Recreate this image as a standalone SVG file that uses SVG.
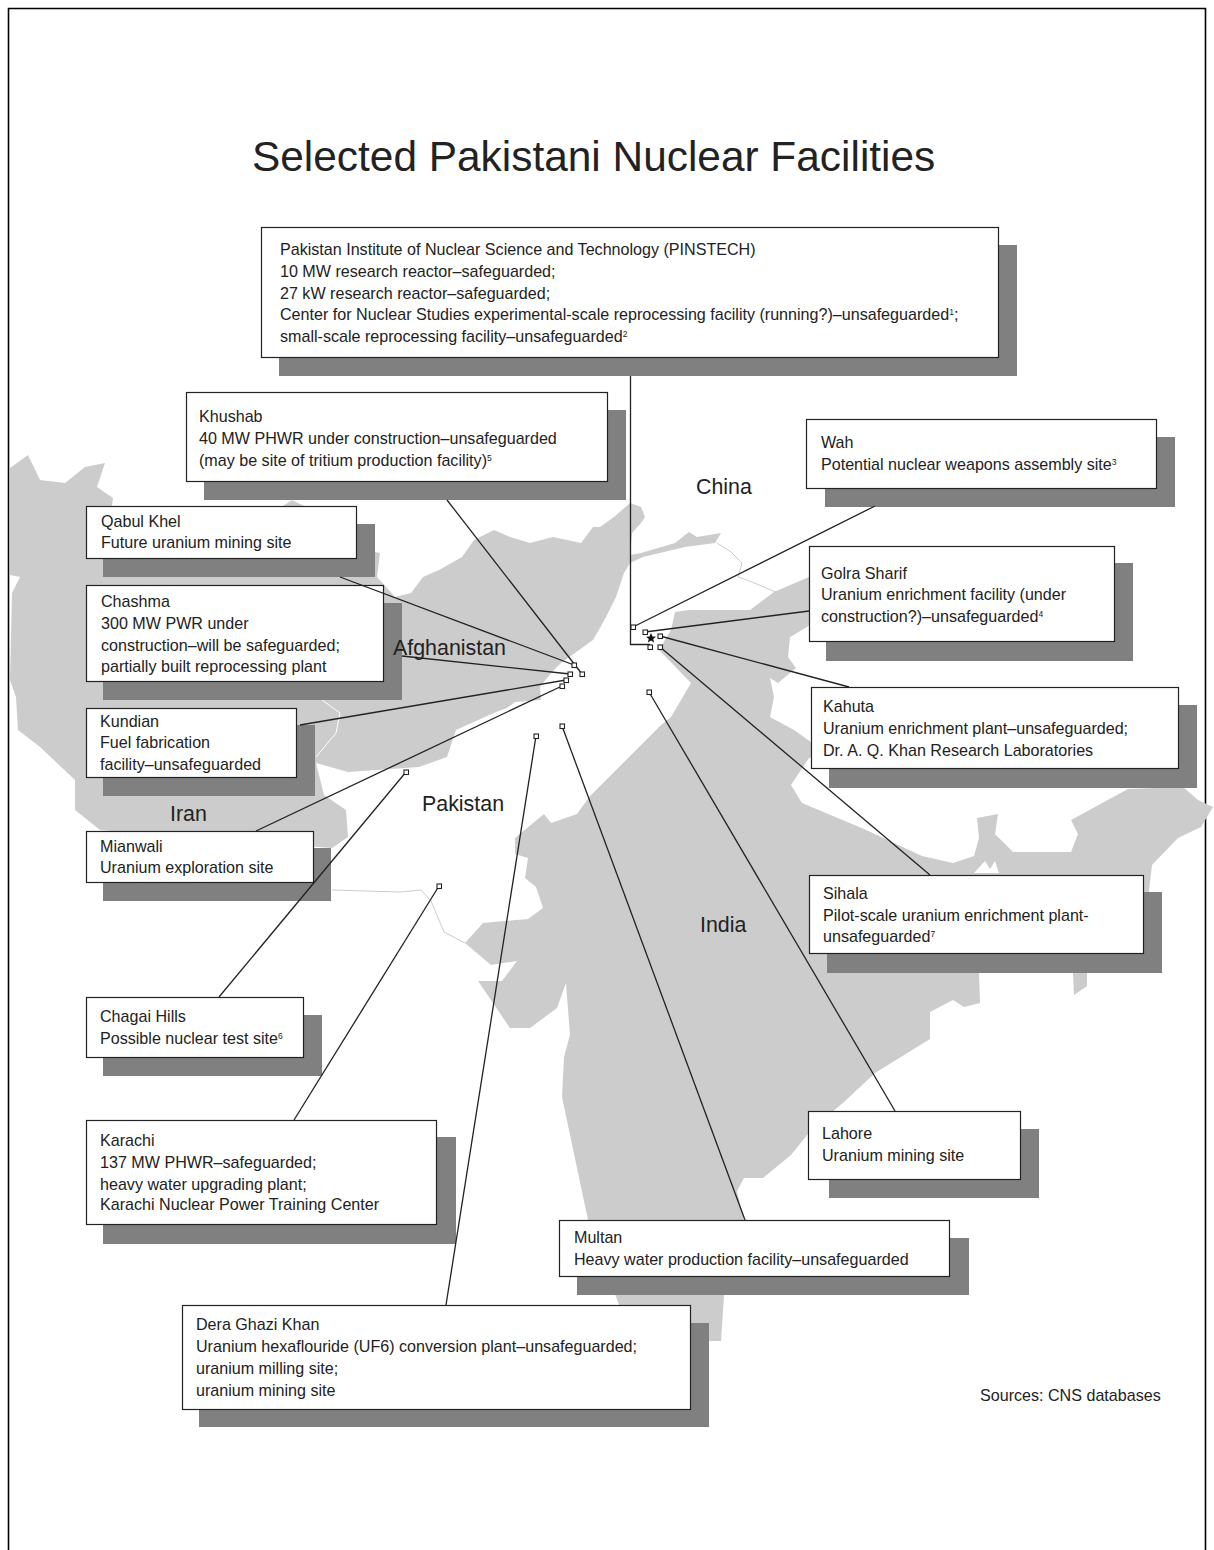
<svg xmlns="http://www.w3.org/2000/svg" width="1214" height="1550" viewBox="0 0 1214 1550">
<style>
text{font-family:"Liberation Sans",Arial,sans-serif;fill:#222}
.t{font-size:16.1px}
.s{font-size:8.5px}
.c{font-size:21.4px}
.title{font-size:42.4px}
.sh{fill:#808080}
.b{fill:#fff;stroke:#222;stroke-width:1.2}
.land{fill:#cccccc;stroke:none}
.ln{fill:none;stroke:#222;stroke-width:1.3}
.sq{fill:#fff;stroke:#222;stroke-width:1.1}
</style>
<rect width="1214" height="1550" fill="#fff"/>
<path d="M8.5 1550V8.5H1205.5V1550" fill="none" stroke="#000" stroke-width="1.6"/>
<g id="title"><text class="title" x="252" y="171">Selected Pakistani Nuclear Facilities</text></g>
<g id="map">
<polygon class="land" points="10,468 28,455 40,480 65,483 85,467 105,463 97,487 113,498 110,520 283,506 292,500 304,506 370,530 375,552 380,553 377,577 395,597 411,593 423,577 439,570 462,557 474,540 494,530 510,537 530,543 553,537 581,543 593,527 600,527 614,517 630,503 641,507 645,517 641,523 632,533 630,555 641,553 675,543 689,532 697,537 721,533 715,543 685,547 643,557 630,563 624,573 616,597 606,617 600,628 593,640 561,663 551,673 540,687 541,700 515,702 507,708 496,712 456,730 447,757 419,767 348,772 316,763 324,795 346,810 348,837 332,848 100,830 75,810 75,780 40,747 18,730 16,697 10,680 12,593 20,577 10,575"/>
<polygon class="land" points="675,612 689,610 750,610 774,592 809,577 850,600 807,627 790,637 788,657 796,668 778,683 770,678 774,697 770,717 794,730 811,742 850,750 809,758 791,785 802,803 864,829 922,856 953,863 974,856 979,838 977,818 998,814 995,834 1013,852 1071,852 1078,834 1071,820 1128,789 1183,787 1198,800 1213,807 1201,827 1178,838 1152,865 1148,900 1087,973 1087,986 1074,995 1073,973 979,973 980,1003 964,1007 953,1000 930,1012 930,1039 875,1073 844,1102 812,1129 791,1155 763,1178 744,1178 737,1191 744,1220 724,1296 721,1341 700,1341 619,1305 588,1220 562,1097 564,1057 570,1035 566,983 557,1008 530,1028 510,1028 478,981 502,981 517,961 491,965 465,943 483,923 528,919 543,908 536,887 525,878 528,858 515,854 515,838 544,814 551,823 577,814 590,796 661,725 671,717 691,683 659,650 671,630"/>
<polygon fill="#fff" points="974,873 985,861 990,869 995,861 999,873"/>
<path d="M322,700 340,713 336,733 316,757" fill="none" stroke="#fff" stroke-width="1"/>
<path d="M717,543 731,552 742,563 738,577 752,582 778,593" fill="none" stroke="#ccc" stroke-width="1"/>
<path d="M332,890 400,892 421,890 431,901 444,932 465,943" fill="none" stroke="#ccc" stroke-width="1"/>
<polygon fill="#111" points="651,633 652.5,636.6 656,636.8 653.2,639 654.2,642.5 651,640.5 647.8,642.5 648.8,639 646,636.8 649.5,636.6"/>
</g>
<g id="n-pinstech"><rect class="sh" x="279" y="245" width="738" height="131"/><rect class="b" x="261.5" y="227.5" width="737" height="130"/>
<text class="t" x="280" y="255">Pakistan Institute of Nuclear Science and Technology (PINSTECH)</text><text class="t" x="280" y="277">10 MW research reactor–safeguarded;</text><text class="t" x="280" y="299">27 kW research reactor–safeguarded;</text><text class="t" x="280" y="320">Center for Nuclear Studies experimental-scale reprocessing facility (running?)–unsafeguarded<tspan class="s" dy="-5">1</tspan><tspan dy="5">;</tspan></text><text class="t" x="280" y="342">small-scale reprocessing facility–unsafeguarded<tspan class="s" dy="-5">2</tspan></text></g>
<g id="n-khushab"><rect class="sh" x="204" y="410" width="422" height="90"/><rect class="b" x="186.5" y="392.5" width="421" height="89"/>
<text class="t" x="199" y="422">Khushab</text><text class="t" x="199" y="444">40 MW PHWR under construction–unsafeguarded</text><text class="t" x="199" y="466">(may be site of tritium production facility)<tspan class="s" dy="-5">5</tspan></text></g>
<g id="n-wah"><rect class="sh" x="825" y="437" width="350" height="70"/><rect class="b" x="806.5" y="419.5" width="350" height="69"/>
<text class="t" x="821" y="448">Wah</text><text class="t" x="821" y="470">Potential nuclear weapons assembly site<tspan class="s" dy="-5">3</tspan></text></g>
<g id="n-qabul"><rect class="sh" x="103" y="524" width="272" height="53"/><rect class="b" x="86.5" y="506.5" width="270" height="52"/>
<text class="t" x="101" y="527">Qabul Khel</text><text class="t" x="101" y="548">Future uranium mining site</text></g>
<g id="n-golra"><rect class="sh" x="826" y="563" width="307" height="98"/><rect class="b" x="809.5" y="546.5" width="305" height="95"/>
<text class="t" x="821" y="579">Golra Sharif</text><text class="t" x="821" y="600">Uranium enrichment facility (under</text><text class="t" x="821" y="622">construction?)–unsafeguarded<tspan class="s" dy="-5">4</tspan></text></g>
<g id="n-chashma"><rect class="sh" x="103" y="603" width="299" height="97"/><rect class="b" x="86.5" y="585.5" width="297" height="96"/>
<text class="t" x="101" y="607">Chashma</text><text class="t" x="101" y="629">300 MW PWR under</text><text class="t" x="101" y="651">construction–will be safeguarded;</text><text class="t" x="101" y="672">partially built reprocessing plant</text></g>
<g id="n-kahuta"><rect class="sh" x="829" y="705" width="368" height="83"/><rect class="b" x="811.5" y="687.5" width="367" height="81"/>
<text class="t" x="823" y="712">Kahuta</text><text class="t" x="823" y="734">Uranium enrichment plant–unsafeguarded;</text><text class="t" x="823" y="756">Dr.  A. Q. Khan Research Laboratories</text></g>
<g id="n-kundian"><rect class="sh" x="103" y="725" width="212" height="71"/><rect class="b" x="86.5" y="708.5" width="210" height="69"/>
<text class="t" x="100" y="727">Kundian</text><text class="t" x="100" y="748">Fuel fabrication</text><text class="t" x="100" y="770">facility–unsafeguarded</text></g>
<g id="n-mianwali"><rect class="sh" x="103" y="848" width="228" height="53"/><rect class="b" x="86.5" y="831.5" width="227" height="51"/>
<text class="t" x="100" y="852">Mianwali</text><text class="t" x="100" y="873">Uranium exploration site</text></g>
<g id="n-sihala"><rect class="sh" x="827" y="892" width="335" height="81"/><rect class="b" x="809.5" y="875.5" width="334" height="78"/>
<text class="t" x="823" y="899">Sihala</text><text class="t" x="823" y="921">Pilot-scale uranium enrichment plant-</text><text class="t" x="823" y="942">unsafeguarded<tspan class="s" dy="-5">7</tspan></text></g>
<g id="n-chagai"><rect class="sh" x="103" y="1015" width="219" height="61"/><rect class="b" x="86.5" y="997.5" width="217" height="60"/>
<text class="t" x="100" y="1022">Chagai Hills</text><text class="t" x="100" y="1044">Possible nuclear test site<tspan class="s" dy="-5">6</tspan></text></g>
<g id="n-karachi"><rect class="sh" x="103" y="1137" width="353" height="107"/><rect class="b" x="86.5" y="1120.5" width="350" height="104"/>
<text class="t" x="100" y="1146">Karachi</text><text class="t" x="100" y="1168">137 MW PHWR–safeguarded;</text><text class="t" x="100" y="1190">heavy water upgrading plant;</text><text class="t" x="100" y="1210">Karachi Nuclear Power Training Center</text></g>
<g id="n-lahore"><rect class="sh" x="829" y="1129" width="210" height="69"/><rect class="b" x="808.5" y="1111.5" width="212" height="68"/>
<text class="t" x="822" y="1139">Lahore</text><text class="t" x="822" y="1161">Uranium mining site</text></g>
<g id="n-multan"><rect class="sh" x="577" y="1238" width="392" height="57"/><rect class="b" x="559.5" y="1220.5" width="390" height="56"/>
<text class="t" x="574" y="1243">Multan</text><text class="t" x="574" y="1265">Heavy water production facility–unsafeguarded</text></g>
<g id="n-dera"><rect class="sh" x="199" y="1323" width="510" height="104"/><rect class="b" x="182.5" y="1305.5" width="508" height="104"/>
<text class="t" x="196" y="1330">Dera Ghazi Khan</text><text class="t" x="196" y="1352">Uranium hexaflouride (UF6) conversion plant–unsafeguarded;</text><text class="t" x="196" y="1374">uranium milling site;</text><text class="t" x="196" y="1396">uranium mining site</text></g>
<g id="connectors">
<path class="ln" d="M630.5 376V644.5H650"/>
<path class="ln" d="M447 500 582 674"/>
<path class="ln" d="M875 506 633 627"/>
<path class="ln" d="M340 577 574 665"/>
<path class="ln" d="M809 611 645 632"/>
<path class="ln" d="M402 656 570 674"/>
<path class="ln" d="M300 725 566 680"/>
<path class="ln" d="M256 831 562 686"/>
<path class="ln" d="M219 997 406 772"/>
<path class="ln" d="M294 1120 439 886"/>
<path class="ln" d="M446 1305 536 736"/>
<path class="ln" d="M745 1220 562 726"/>
<path class="ln" d="M895 1111 649 692"/>
<path class="ln" d="M930 875 660 647"/>
<path class="ln" d="M849 687 660 636"/>
<rect class="sq" x="631" y="625" width="4.5" height="4.5"/><rect class="sq" x="643" y="630" width="4.5" height="4.5"/><rect class="sq" x="658" y="634" width="4.5" height="4.5"/><rect class="sq" x="648" y="645" width="4.5" height="4.5"/><rect class="sq" x="658" y="645" width="4.5" height="4.5"/><rect class="sq" x="647" y="690" width="4.5" height="4.5"/><rect class="sq" x="572" y="663" width="4.5" height="4.5"/><rect class="sq" x="580" y="672" width="4.5" height="4.5"/><rect class="sq" x="568" y="672" width="4.5" height="4.5"/><rect class="sq" x="564" y="678" width="4.5" height="4.5"/><rect class="sq" x="560" y="684" width="4.5" height="4.5"/><rect class="sq" x="560" y="724" width="4.5" height="4.5"/><rect class="sq" x="534" y="734" width="4.5" height="4.5"/><rect class="sq" x="404" y="770" width="4.5" height="4.5"/><rect class="sq" x="437" y="884" width="4.5" height="4.5"/>
</g>
<g id="labels">
<text class="c" x="696" y="494">China</text>
<text class="c" x="393" y="655">Afghanistan</text>
<text class="c" x="170" y="821">Iran</text>
<text class="c" x="422" y="811">Pakistan</text>
<text class="c" x="700" y="932">India</text>
<text class="t" x="980" y="1401">Sources: CNS databases</text>
</g>
</svg>
